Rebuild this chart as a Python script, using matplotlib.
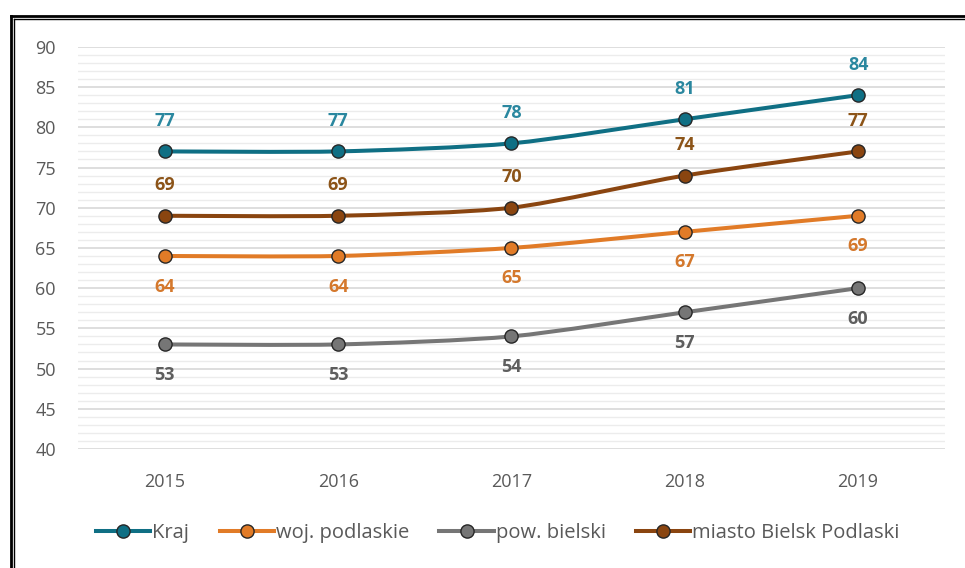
import numpy as np
import matplotlib.pyplot as plt
from matplotlib.path import Path
from matplotlib.patches import PathPatch
from matplotlib.lines import Line2D

years = ['2015', '2016', '2017', '2018', '2019']
kraj = [77, 77, 78, 81, 84]
woj = [64, 64, 65, 67, 69]
pow_b = [53, 53, 54, 57, 60]
miasto = [69, 69, 70, 74, 77]

names = ['Kraj', 'woj. podlaskie', 'pow. bielski', 'miasto Bielsk Podlaski']
series = [kraj, woj, pow_b, miasto]
line_colors = ['#0f6f84', '#e17b27', '#767676', '#8a4510']
label_colors = ['#2a879f', '#d4782c', '#5e5e5e', '#8c5418']
label_side = [1, -1, -1, 1]

plt.rcParams['font.family'] = ['Open Sans', 'DejaVu Sans']
FS = 13

fig = plt.figure(figsize=(9.65, 5.68), dpi=100)
ax = fig.add_axes([0.081, 0.2095, 0.898, 0.708])


def smooth_path(x, y):
    # Excel-style smoothed line as cubic bezier segments
    x = np.asarray(x, float)
    y = np.asarray(y, float)
    n = len(x)
    verts = [(x[0], y[0])]
    codes = [Path.MOVETO]
    for i in range(n - 1):
        p0 = np.array([x[max(i - 1, 0)], y[max(i - 1, 0)]])
        p1 = np.array([x[i], y[i]])
        p2 = np.array([x[i + 1], y[i + 1]])
        p3 = np.array([x[min(i + 2, n - 1)], y[min(i + 2, n - 1)]])
        c1 = p1 + (p2 - p0) / 8
        c2 = p2 - (p3 - p1) / 8
        verts += [tuple(c1), tuple(c2), tuple(p2)]
        codes += [Path.CURVE4] * 3
    return Path(verts, codes)


xs = np.arange(len(years))
handles = []
for vals, name, lc, tc, side in zip(series, names, line_colors, label_colors, label_side):
    patch = PathPatch(smooth_path(xs, vals), facecolor='none', edgecolor=lc,
                      lw=2.9, capstyle='round', zorder=3)
    ax.add_patch(patch)
    ax.plot(xs, vals, ls='none', marker='o', ms=9.5, mfc=lc,
            mec='#262626', mew=1.0, zorder=4)
    for xi, v in zip(xs, vals):
        ax.annotate(str(v), (xi, v), xytext=(0, 22 * side), textcoords='offset points',
                    ha='center', va='center', fontsize=FS, fontweight='bold', color=tc)
    handles.append(Line2D([], [], color=lc, lw=2.9, marker='o', ms=9.5,
                          mfc=lc, mec='#262626', mew=1.0))

ax.set_xlim(-0.5, len(years) - 0.5)
ax.set_ylim(40, 90)
ax.set_xticks(xs)
ax.set_xticklabels(years)
ax.set_yticks(np.arange(40, 91, 5))
ax.set_yticks(np.arange(40, 91, 1), minor=True)
ax.grid(axis='y', which='major', color='#d4d4d4', lw=1.1, zorder=0)
ax.grid(axis='y', which='minor', color='#ececec', lw=1.0, zorder=0)
ax.tick_params(which='both', length=0)
ax.tick_params(axis='y', pad=16, labelsize=FS, labelcolor='#595959')
ax.tick_params(axis='x', pad=17, labelsize=FS, labelcolor='#595959')
for s in ax.spines.values():
    s.set_visible(False)

fig.legend(handles, names, loc='center', bbox_to_anchor=(0.516, 0.062), ncol=4,
           frameon=False, fontsize=14.5, handlelength=2.7, handletextpad=0.1,
           columnspacing=1.5, labelcolor='#595959')

# double frame around the chart
W, H = 965, 568
for x0, y0, lw in [(11, 16, 2.0), (14, 18.5, 1.0)]:
    fig.add_artist(Line2D([x0 / W, x0 / W], [0, 1 - y0 / H], color='black', lw=lw))
    fig.add_artist(Line2D([x0 / W, 1], [1 - y0 / H, 1 - y0 / H], color='black', lw=lw))

fig.savefig('out.png', dpi=100)
